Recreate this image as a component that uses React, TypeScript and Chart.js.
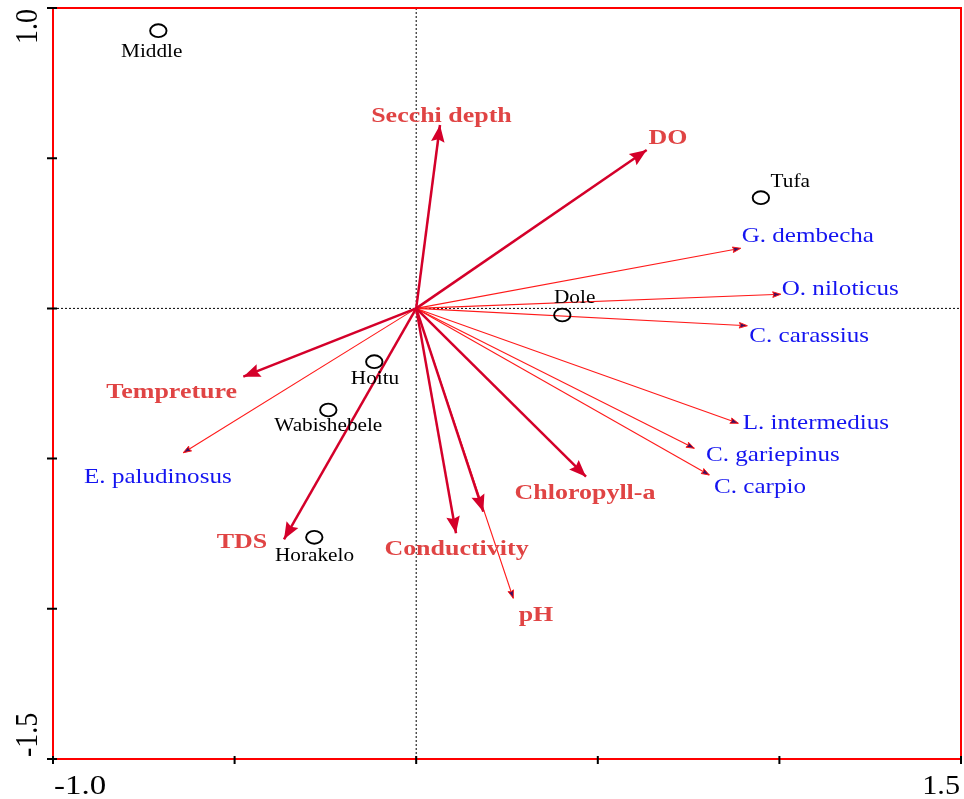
import React, { useEffect, useRef } from "react";
import { Chart, registerables } from "chart.js";

Chart.register(...registerables);

// Axis ranges and ticks
const X_MIN = -1.0;
const X_MAX = 1.5;
const Y_MIN = -1.5;
const Y_MAX = 1.0;
const xTickValues = [-1.0, -0.5, 0, 0.5, 1.0, 1.5];
const yTickValues = [1.0, 0.5, 0, -0.5, -1.0, -1.5];
const xTickLabelValues = [-1.0, 1.5];
const xTickLabels = ["-1.0", "1.5"];
const yTickLabelValues = [1.0, -1.5];
const yTickLabels = ["1.0", "-1.5"];

// Environmental variables (biplot scores)
const envNames = ["Secchi depth", "DO", "Tempreture", "TDS", "Conductivity", "Chloropyll-a", "pH"];
const envX = [0.0655, 0.6346, -0.476, -0.364, 0.1096, 0.4675, 0.1847];
const envY = [0.6105, 0.5273, -0.2274, -0.7686, -0.7487, -0.5602, -0.6768];

// Fish species scores
const speciesNames = ["G. dembecha", "O. niloticus", "C. carassius", "L. intermedius", "C. gariepinus", "C. carpio", "E. paludinosus"];
const speciesX = [0.8934, 1.0036, 0.9116, 0.8868, 0.7657, 0.807, -0.6412];
const speciesY = [0.2, 0.047, -0.0576, -0.3825, -0.4657, -0.5546, -0.4804];

// Unlabelled thin vector running on past the pH arrow
const extraX = [0.2673];
const extraY = [-0.965];

// Sampling sites
const siteNames = ["Middle", "Tufa", "Dole", "Hoitu", "Wabishebele", "Horakelo"];
const siteX = [-0.71, 0.949, 0.4023, -0.1154, -0.242, -0.2806];
const siteY = [0.9244, 0.3685, -0.022, -0.1774, -0.3382, -0.762];

// Label placement (pixel offsets from the arrow tip / site marker)
const envLabelDx = [1.5, 21.3, -71.6, -42, 0.5, -1, 52.7];
const envLabelDy = [-3, -6, 21.6, 9, 21.7, 22.3, 109.3];
const speciesLabelDx = [1, 1, 2, 4.4, 11.7, 4.7, -99.3];
const speciesLabelDy = [-6.3, 0.7, 15.8, 5.7, 13.2, 17.5, 29.8];
const siteLabelDx = [-6.6, 9.7, -8.3, 0.7, 0, 0.2];
const siteLabelDy = [26, -11, -11.7, 22.6, 20.7, 23.4];
const siteLabelAlign: CanvasTextAlign[] = ["center", "left", "left", "center", "center", "center"];

const SERIF = '"Liberation Serif", "Times New Roman", serif';
const ENV_LINE = "#d4002a";
const ENV_TEXT = "#e04444";
const SPECIES_LINE = "#ff1a1a";
const SPECIES_TEXT = "#1414f0";
const FRAME = "#ff0000";

function drawText(
  ctx: CanvasRenderingContext2D,
  text: string,
  x: number,
  y: number,
  font: string,
  color: string,
  align: CanvasTextAlign,
  sx: number
) {
  ctx.save();
  ctx.translate(x, y);
  ctx.scale(sx, 1);
  ctx.font = font;
  ctx.fillStyle = color;
  ctx.textAlign = align;
  ctx.textBaseline = "alphabetic";
  ctx.fillText(text, 0, 0);
  ctx.restore();
}

function drawHead(
  ctx: CanvasRenderingContext2D,
  ox: number,
  oy: number,
  tx: number,
  ty: number,
  len: number,
  half: number,
  fill: string,
  stroke: string | null
) {
  const a = Math.atan2(ty - oy, tx - ox);
  const c = Math.cos(a);
  const s = Math.sin(a);
  const bx = tx - len * c;
  const by = ty - len * s;
  const nx = tx - len * 0.85 * c;
  const ny = ty - len * 0.85 * s;
  ctx.save();
  ctx.beginPath();
  ctx.moveTo(tx, ty);
  ctx.lineTo(bx - half * s, by + half * c);
  ctx.lineTo(nx, ny);
  ctx.lineTo(bx + half * s, by - half * c);
  ctx.closePath();
  ctx.fillStyle = fill;
  ctx.fill();
  if (stroke) {
    ctx.strokeStyle = stroke;
    ctx.lineWidth = 1;
    ctx.stroke();
  }
  ctx.restore();
}

export default function App() {
  const canvasRef = useRef<HTMLCanvasElement | null>(null);

  useEffect(() => {
    const canvas = canvasRef.current;
    if (!canvas) return;

    const envStart = 0;
    const speciesStart = envNames.length;
    const extraStart = speciesStart + speciesNames.length;
    const siteIndex = extraStart + extraX.length;

    const datasets: any[] = [];
    envNames.forEach((name, i) => {
      datasets.push({
        label: name,
        data: [
          { x: 0, y: 0 },
          { x: envX[i], y: envY[i] },
        ],
        showLine: true,
        borderColor: ENV_LINE,
        borderWidth: 2.5,
        pointRadius: 0,
      });
    });
    speciesNames.forEach((name, i) => {
      datasets.push({
        label: name,
        data: [
          { x: 0, y: 0 },
          { x: speciesX[i], y: speciesY[i] },
        ],
        showLine: true,
        borderColor: SPECIES_LINE,
        borderWidth: 1.1,
        pointRadius: 0,
      });
    });
    extraX.forEach((v, i) => {
      datasets.push({
        label: "vector",
        data: [
          { x: 0, y: 0 },
          { x: v, y: extraY[i] },
        ],
        showLine: true,
        borderColor: SPECIES_LINE,
        borderWidth: 1.1,
        pointRadius: 0,
      });
    });
    datasets.push({
      label: "sites",
      data: siteX.map((x, i) => ({ x, y: siteY[i] })),
      showLine: false,
      pointRadius: 0,
    });

    const decor = {
      id: "biplotDecor",
      beforeDatasetsDraw(chart: any) {
        const { ctx, chartArea, scales } = chart;
        const x0 = scales.x.getPixelForValue(0);
        const y0 = scales.y.getPixelForValue(0);
        ctx.save();
        ctx.strokeStyle = "#000";
        ctx.lineWidth = 1;
        ctx.setLineDash([2, 2]);
        ctx.beginPath();
        ctx.moveTo(x0, chartArea.top);
        ctx.lineTo(x0, chartArea.bottom);
        ctx.moveTo(chartArea.left, y0);
        ctx.lineTo(chartArea.right, y0);
        ctx.stroke();
        ctx.restore();
      },
      afterDatasetsDraw(chart: any) {
        const { ctx, chartArea, scales } = chart;

        // arrow heads
        for (let i = 0; i < envNames.length; i++) {
          const pts = chart.getDatasetMeta(envStart + i).data;
          drawHead(ctx, pts[0].x, pts[0].y, pts[1].x, pts[1].y, 17, 6.8, ENV_LINE, null);
        }
        for (let i = 0; i < speciesNames.length + extraX.length; i++) {
          const pts = chart.getDatasetMeta(speciesStart + i).data;
          drawHead(ctx, pts[0].x, pts[0].y, pts[1].x, pts[1].y, 8, 2.8, "#3a1060", SPECIES_LINE);
        }

        // site markers
        const sitePts = chart.getDatasetMeta(siteIndex).data;
        ctx.save();
        ctx.strokeStyle = "#000";
        ctx.lineWidth = 1.9;
        sitePts.forEach((p: any) => {
          ctx.beginPath();
          ctx.ellipse(p.x, p.y, 8.2, 6.4, 0, 0, Math.PI * 2);
          ctx.stroke();
        });
        ctx.restore();

        // labels
        for (let i = 0; i < envNames.length; i++) {
          const p = chart.getDatasetMeta(envStart + i).data[1];
          drawText(ctx, envNames[i], p.x + envLabelDx[i], p.y + envLabelDy[i], `bold 22px ${SERIF}`, ENV_TEXT, "center", 1.18);
        }
        for (let i = 0; i < speciesNames.length; i++) {
          const p = chart.getDatasetMeta(speciesStart + i).data[1];
          drawText(ctx, speciesNames[i], p.x + speciesLabelDx[i], p.y + speciesLabelDy[i], `22px ${SERIF}`, SPECIES_TEXT, "left", 1.14);
        }
        sitePts.forEach((p: any, i: number) => {
          drawText(ctx, siteNames[i], p.x + siteLabelDx[i], p.y + siteLabelDy[i], `18px ${SERIF}`, "#000", siteLabelAlign[i], 1.18);
        });

        // frame
        ctx.save();
        ctx.strokeStyle = FRAME;
        ctx.lineWidth = 2;
        ctx.strokeRect(chartArea.left, chartArea.top, chartArea.right - chartArea.left, chartArea.bottom - chartArea.top);
        ctx.restore();

        // ticks
        ctx.save();
        ctx.strokeStyle = "#000";
        ctx.lineWidth = 2;
        ctx.beginPath();
        yTickValues.forEach((v) => {
          const y = scales.y.getPixelForValue(v);
          ctx.moveTo(chartArea.left - 6, y);
          ctx.lineTo(chartArea.left + 4, y);
        });
        xTickValues.forEach((v) => {
          const x = scales.x.getPixelForValue(v);
          ctx.moveTo(x, chartArea.bottom - 3);
          ctx.lineTo(x, chartArea.bottom + 5);
        });
        ctx.stroke();
        ctx.restore();

        // tick labels
        xTickLabelValues.forEach((v, i) => {
          const x = scales.x.getPixelForValue(v);
          const align: CanvasTextAlign = i === 0 ? "left" : "right";
          drawText(ctx, xTickLabels[i], x + (i === 0 ? 1 : -1), chartArea.bottom + 35, `27px ${SERIF}`, "#000", align, i === 0 ? 1.22 : 1.12);
        });
        yTickLabelValues.forEach((v, i) => {
          const y = scales.y.getPixelForValue(v);
          ctx.save();
          ctx.translate(chartArea.left - 16, i === 0 ? y + 1 : y - 2);
          ctx.rotate(-Math.PI / 2);
          ctx.scale(1, 1.15);
          ctx.font = `28px ${SERIF}`;
          ctx.fillStyle = "#000";
          ctx.textAlign = i === 0 ? "right" : "left";
          ctx.textBaseline = "alphabetic";
          ctx.fillText(yTickLabels[i], 0, 0);
          ctx.restore();
        });
      },
    };

    const chart = new Chart(canvas, {
      type: "scatter",
      data: { datasets },
      options: {
        animation: false,
        responsive: false,
        layout: { padding: { left: 53, top: 8, right: 3, bottom: 40 } },
        scales: {
          x: { type: "linear", min: X_MIN, max: X_MAX, display: false },
          y: { type: "linear", min: Y_MIN, max: Y_MAX, display: false },
        },
        plugins: {
          legend: { display: false },
          tooltip: { enabled: false },
        },
        events: [],
      },
      plugins: [decor],
    });

    return () => chart.destroy();
  }, []);

  return (
    <div style={{ position: "absolute", left: 0, top: 0, width: 964, height: 799, background: "#fff" }}>
      <canvas ref={canvasRef} width={964} height={799} style={{ display: "block" }} />
    </div>
  );
}
